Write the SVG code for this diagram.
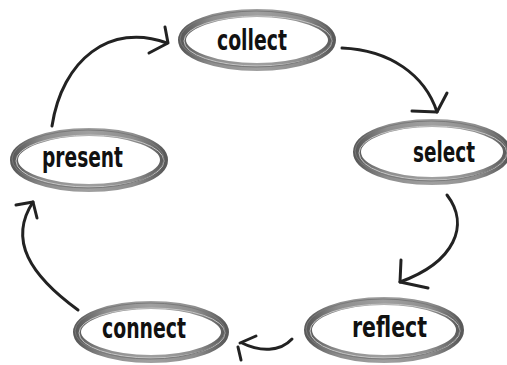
<svg xmlns="http://www.w3.org/2000/svg" width="507" height="365" viewBox="0 0 507 365">
<defs>
<linearGradient id="ring" x1="0" y1="0" x2="1" y2="0">
<stop offset="0" stop-color="#5a5a5a"/>
<stop offset="0.2" stop-color="#8e8e8e"/>
<stop offset="0.5" stop-color="#a0a0a0"/>
<stop offset="0.8" stop-color="#8e8e8e"/>
<stop offset="1" stop-color="#5a5a5a"/>
</linearGradient>
</defs>
<style>
.o1{fill:#fff;stroke:url(#ring);stroke-width:8}
.o2{fill:none;stroke:#c4c4c4;stroke-width:1}
.o3{fill:none;stroke:#7a7a7a;stroke-width:1}
.t{font-family:"DejaVu Sans Condensed","DejaVu Sans",sans-serif;font-weight:bold;font-size:28px;fill:#111}
.c{fill:none;stroke:#222;stroke-width:3;stroke-linecap:round;stroke-linejoin:round}
</style>
<rect width="507" height="365" fill="#fff"/>
<g id="collect">
<ellipse class="o1" cx="257" cy="40" rx="75" ry="27"/>
<ellipse class="o2" cx="258" cy="41" rx="74" ry="25"/>
<ellipse class="o3" cx="256" cy="39" rx="76" ry="28"/>
<text class="t" x="217" y="50" textLength="70" lengthAdjust="spacingAndGlyphs">collect</text>
</g>
<g id="select">
<ellipse class="o1" cx="432" cy="152" rx="75" ry="29"/>
<ellipse class="o2" cx="433" cy="153" rx="74" ry="27"/>
<ellipse class="o3" cx="431" cy="151" rx="76" ry="30"/>
<text class="t" x="413" y="162" textLength="62" lengthAdjust="spacingAndGlyphs">select</text>
</g>
<g id="present">
<ellipse class="o1" cx="89" cy="160" rx="75" ry="28"/>
<ellipse class="o2" cx="90" cy="161" rx="74" ry="26"/>
<ellipse class="o3" cx="88" cy="159" rx="76" ry="29"/>
<text class="t" x="42" y="167" textLength="81" lengthAdjust="spacingAndGlyphs">present</text>
</g>
<g id="reflect">
<ellipse class="o1" cx="384" cy="330" rx="76" ry="29"/>
<ellipse class="o2" cx="385" cy="331" rx="75" ry="27"/>
<ellipse class="o3" cx="383" cy="329" rx="77" ry="30"/>
<text class="t" x="352" y="337" textLength="75" lengthAdjust="spacingAndGlyphs">reflect</text>
</g>
<g id="connect">
<ellipse class="o1" cx="151" cy="332" rx="74" ry="27"/>
<ellipse class="o2" cx="152" cy="333" rx="73" ry="25"/>
<ellipse class="o3" cx="150" cy="331" rx="75" ry="28"/>
<text class="t" x="102" y="338" textLength="84" lengthAdjust="spacingAndGlyphs">connect</text>
</g>
<g id="connectors">
<path class="c" d="M52,126 C62,60 110,22 167,43"/>
<path class="c" d="M165,27 L168,43 L149,53"/>
<path class="c" d="M342,48 C390,50 425,75 437,112"/>
<path class="c" d="M447,93 L437,112 L412,111"/>
<path class="c" d="M447,195 C470,225 455,262 400,282"/>
<path class="c" d="M401,260 L400,282 L428,288"/>
<path class="c" d="M292,339 C280,352 260,352 242,343"/>
<path class="c" d="M256,336 L240,343"/>
<path class="c" d="M238,347 L241,360"/>
<path class="c" d="M78,310 C30,275 8,240 33,202"/>
<path class="c" d="M16,205 L33,202 L37,218"/>
</g>
</svg>
